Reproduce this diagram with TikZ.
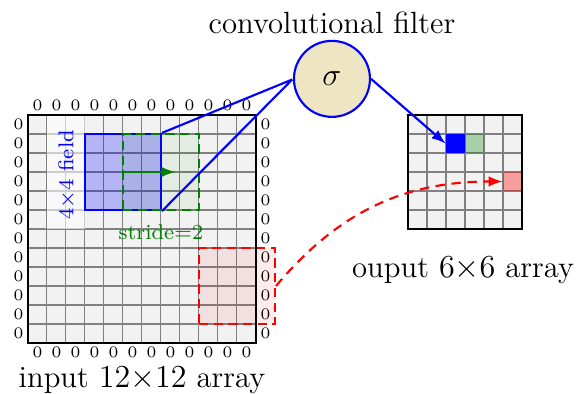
\documentclass[tikz,border=0pt]{standalone}
\usepackage{amsmath}
\definecolor{filterfill}{RGB}{238,230,194}
\tikzset{
  zero/.style={font=\fontsize{6}{6}\selectfont, inner sep=0pt},
  lbl/.style={font=\fontsize{11.5}{13}\selectfont, inner sep=1pt},
  patch/.style={minimum size=1cm, inner sep=0pt},
  cell/.style={minimum size=0.25cm, inner sep=0pt},
  dsh/.style={dash pattern=on 3.5pt off 2pt},
}
\begin{document}
\begin{tikzpicture}[scale=0.25]
    \useasboundingbox (-1.47,-2.68) rectangle (29,18.05);

    % input array
    \fill[gray!10] (0,0) rectangle (12,12);
    \draw[gray, thin] (0,0) grid (12,12);
    \fill[white, opacity=0.6] (1,6) rectangle (3,12);

    % zero padding
    \foreach \i in {0,...,11} {
        \node[zero] (zt\i) at (\i+0.5,12.5) {0};
        \node[zero] (zb\i) at (\i+0.5,-0.5) {0};
        \node[zero] (zl\i) at (-0.5,\i+0.5) {0};
        \node[zero] (zr\i) at (12.5,\i+0.5) {0};
    }

    % receptive field and its shift
    \node[patch, draw=blue, thick, fill=blue, fill opacity=0.25] (field) at (5,9) {};
    \node[patch, draw=green!50!black, thick, dsh, fill=green!50!black, fill opacity=0.06] (stride) at (7,9) {};
    \node[patch, draw=red, thick, dsh, fill=red, fill opacity=0.07] (pad) at (11,3) {};
    \draw[thick] (0,0) rectangle (12,12);

    \coordinate (shift) at (7.75,9);
    \draw[green!50!black, thick, -latex] (field.center) -- (shift);
    \node[font=\footnotesize, text=blue, rotate=90] (fieldlbl) at (2.05,8.85) {$4{\times}4$ field};
    \node[font=\footnotesize, text=green!50!black] (stridelbl) at (7,5.85) {stride=2};

    % filter
    \node[circle, draw=blue, thick, fill=filterfill, minimum size=1cm, inner sep=0pt, lbl] (sigma) at (16,13.9) {$\sigma$};
    \node[lbl, anchor=base] (filterlbl) at (16,16.3) {convolutional filter};
    \draw[blue, thick] (field.north east) -- ([xshift=-1.1pt, yshift=-1pt]sigma.west);
    \draw[blue, thick] (field.south east) -- ([xshift=-1.1pt, yshift=-1pt]sigma.west);

    % output array
    \fill[gray!10] (20,6) rectangle (26,12);
    \draw[gray, thin] (20,6) grid (26,12);
    \node[cell, fill=blue] (outb) at (22.5,10.5) {};
    \node[cell, fill=green!50!black, fill opacity=0.3] (outg) at (23.5,10.5) {};
    \node[cell, fill=red, fill opacity=0.35] (outr) at (25.5,8.5) {};
    \draw[thick] (20,6) rectangle (26,12);

    \draw[blue, thick, -latex] (sigma.east) -- (outb.west);
    \draw[red, thick, dash pattern=on 3.5pt off 2.5pt, -latex] (pad.east) to[out=50, in=180] (outr.west);

    % labels
    \node[lbl, anchor=base] (inlbl) at (6,-2.35) {input $12{\times}12$ array};
    \node[lbl, anchor=base] (outlbl) at (22.9,3.47) {ouput $6{\times}6$ array};
\end{tikzpicture}
\end{document}
